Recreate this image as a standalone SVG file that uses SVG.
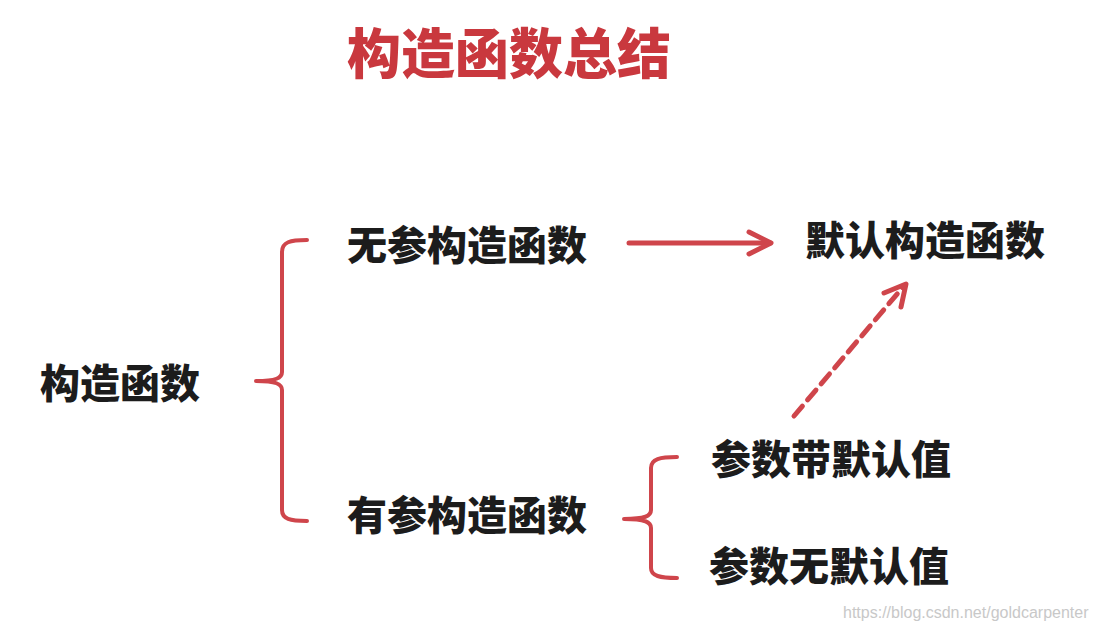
<svg xmlns="http://www.w3.org/2000/svg" width="1095" height="630" viewBox="0 0 1095 630">
<defs>
<style>
.t{font-family:"Noto Sans CJK SC","Noto Sans",sans-serif;font-weight:900;font-size:40px;fill:#1c1c1c;}
.title{font-family:"Noto Sans CJK SC","Noto Sans",sans-serif;font-weight:900;font-size:54px;fill:#c9383e;}
.br{fill:none;stroke:#cf454b;stroke-width:4;stroke-linecap:round;stroke-linejoin:round;}
.ar{fill:none;stroke:#cf454b;stroke-width:5;stroke-linecap:round;stroke-linejoin:round;}
.wm{font-family:"Liberation Sans",Arial,sans-serif;font-size:16px;fill:#c8c8c8;}
</style>
</defs>
<rect width="1095" height="630" fill="#ffffff"/>
<g id="title"><text class="title" x="347" y="74">构造函数总结</text></g>
<g id="node-root"><text class="t" x="40" y="398">构造函数</text></g>
<g id="node-noarg"><text class="t" x="347" y="260">无参构造函数</text></g>
<g id="node-default"><text class="t" x="805" y="255">默认构造函数</text></g>
<g id="node-arg"><text class="t" x="347" y="530">有参构造函数</text></g>
<g id="node-withdef"><text class="t" x="711" y="474">参数带默认值</text></g>
<g id="node-nodef"><text class="t" x="709" y="581">参数无默认值</text></g>
<g id="connectors">
<path class="br" d="M307,240 C290,240 282,242 282,252 L282,372 C282,378 276,381 256,381 C276,381 282,384 282,390 L282,510 C282,519 290,521 307,521"/>
<path class="br" d="M677,457 C660,457 651,459 651,468 L651,510 C651,516 645,519 624,519 C645,519 651,522 651,528 L651,568 C651,576 660,578 677,578"/>
<line class="ar" x1="629" y1="243" x2="770" y2="243"/>
<polyline class="ar" points="749,232 771,243 749,254"/>
<line class="ar" x1="794" y1="416" x2="903" y2="287" stroke-dasharray="13,8" stroke-linecap="butt"/>
<polyline class="ar" points="884,293 906,284 901,307"/>
</g>
<text class="wm" x="843" y="618">https://blog.csdn.net/goldcarpenter</text>
</svg>
